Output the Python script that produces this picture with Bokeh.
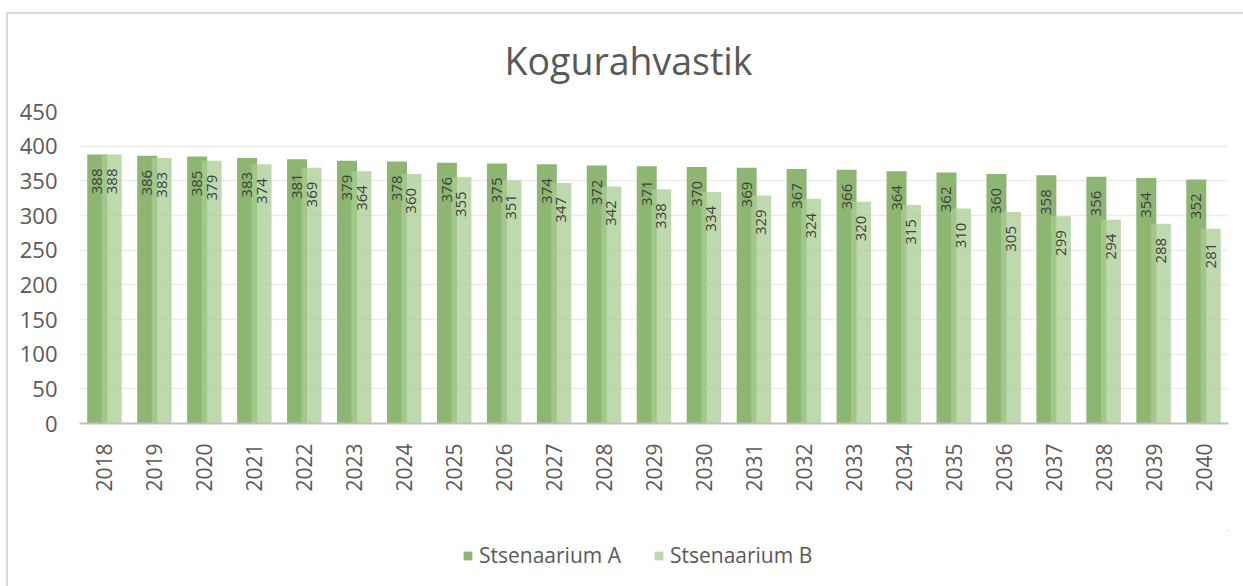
import math
from bokeh.plotting import figure
from bokeh.layouts import column
from bokeh.models import (FactorRange, Range1d, ColumnDataSource, Legend, LegendItem,
                          FixedTicker, Title)
from bokeh.transform import dodge
from bokeh.core.properties import value
from bokeh.embed import file_html
from bokeh.resources import INLINE

title = "Kogurahvastik"
years = ["2018", "2019", "2020", "2021", "2022", "2023", "2024", "2025", "2026", "2027",
         "2028", "2029", "2030", "2031", "2032", "2033", "2034", "2035", "2036", "2037",
         "2038", "2039", "2040"]
series_a_name = "Stsenaarium A"
series_b_name = "Stsenaarium B"
series_a = [388, 386, 385, 383, 381, 379, 378, 376, 375, 374, 372, 371, 370, 369, 367, 366,
            364, 362, 360, 358, 356, 354, 352]
series_b = [388, 383, 379, 374, 369, 364, 360, 355, 351, 347, 342, 338, 334, 329, 324, 320,
            315, 310, 305, 299, 294, 288, 281]
y_ticks = [0, 50, 100, 150, 200, 250, 300, 350, 400, 450]

W = 1243
H1, H2 = 530, 56
FONT = "Open Sans"
TXT = "#595959"
COL_A = "#8db672"
COL_B = "#a8cc92"
ALPHA_B = 0.75

src = ColumnDataSource(dict(
    year=years, a=series_a, b=series_b,
    a_lbl=[str(v) for v in series_a], b_lbl=[str(v) for v in series_b],
))

p = figure(x_range=FactorRange(*years, range_padding=0), y_range=Range1d(0, 450),
           width=W, height=H1, output_backend="svg", toolbar_location=None,
           min_border_left=79, min_border_right=15, min_border_top=111, min_border_bottom=107)
p.border_fill_color = None

p.title.text = title
p.title.align = "left"
p.title.offset = 425
p.title.text_font = FONT
p.title.text_font_size = "37.5px"
p.title.text_font_style = "normal"
p.title.text_color = TXT
p.add_layout(Title(text=" ", text_font_size="8px"), "above")

off = 0.145
p.vbar(x=dodge("year", -off, range=p.x_range), top="a", width=0.4, source=src,
       fill_color=COL_A, line_color=None)
p.vbar(x=dodge("year", off, range=p.x_range), top="b", width=0.4, source=src,
       fill_color=COL_B, fill_alpha=ALPHA_B, line_color=None)

for col, lbl, d in (("a", "a_lbl", -off), ("b", "b_lbl", off)):
    p.text(x=dodge("year", d, range=p.x_range), y=col, text=lbl, source=src,
           angle=math.pi / 2, text_align="right", text_baseline="middle",
           y_offset=14, text_font=value(FONT), text_font_size="15px", text_color="#404040")

p.outline_line_color = None
p.xgrid.visible = False
p.ygrid.grid_line_color = "#ebebeb"
p.ygrid.grid_line_width = 1.5

p.yaxis.ticker = FixedTicker(ticks=y_ticks)
p.yaxis.axis_line_color = None
p.yaxis.major_tick_line_color = None
p.yaxis.minor_tick_line_color = None
p.yaxis.major_tick_out = 0
p.yaxis.major_label_standoff = 22
p.yaxis.major_label_text_font = FONT
p.yaxis.major_label_text_font_size = "22px"
p.yaxis.major_label_text_color = TXT

p.xaxis.axis_line_color = "#bfbfbf"
p.xaxis.axis_line_width = 2
p.xaxis.major_tick_line_color = None
p.xaxis.major_tick_out = 0
p.xaxis.major_label_orientation = math.pi / 2
p.xaxis.major_label_standoff = 20
p.xaxis.major_label_text_font = FONT
p.xaxis.major_label_text_font_size = "21px"
p.xaxis.major_label_text_color = TXT

# legend strip (its bars have zero height and lie outside its ranges: only the legend shows)
p2 = figure(width=W, height=H2, x_range=Range1d(0, 1), y_range=Range1d(0, 1),
            output_backend="svg", toolbar_location=None, min_border=0,
            x_axis_type=None, y_axis_type=None)
p2.grid.visible = False
p2.outline_line_color = None
p2.border_fill_color = None
p2.background_fill_color = None
la = p2.vbar(x="a", top="a", bottom="a", width=0.4, source=src,
             fill_color=COL_A, line_color=None)
lb = p2.vbar(x="b", top="b", bottom="b", width=0.4, source=src,
             fill_color=COL_B, fill_alpha=ALPHA_B, line_color=None)
legend = Legend(items=[LegendItem(label=series_a_name, renderers=[la]),
                       LegendItem(label=series_b_name, renderers=[lb])],
                orientation="horizontal", location=(383, 17),
                label_text_font=FONT, label_text_font_size="21px", label_text_color=TXT,
                glyph_width=11, glyph_height=11, label_standoff=6, spacing=32,
                padding=5, margin=0,
                border_line_color=None, background_fill_alpha=0)
p2.add_layout(legend, "center")

layout = column(p, p2, styles={"box-shadow": "inset 0 12px 0 0 #ffffff, inset 6px 0 0 0 #ffffff, "
                                             "inset 0 14px 0 0 #d9d9d9, inset 8px 0 0 0 #d9d9d9"})

open("out.html", "w").write(file_html(layout, INLINE))
